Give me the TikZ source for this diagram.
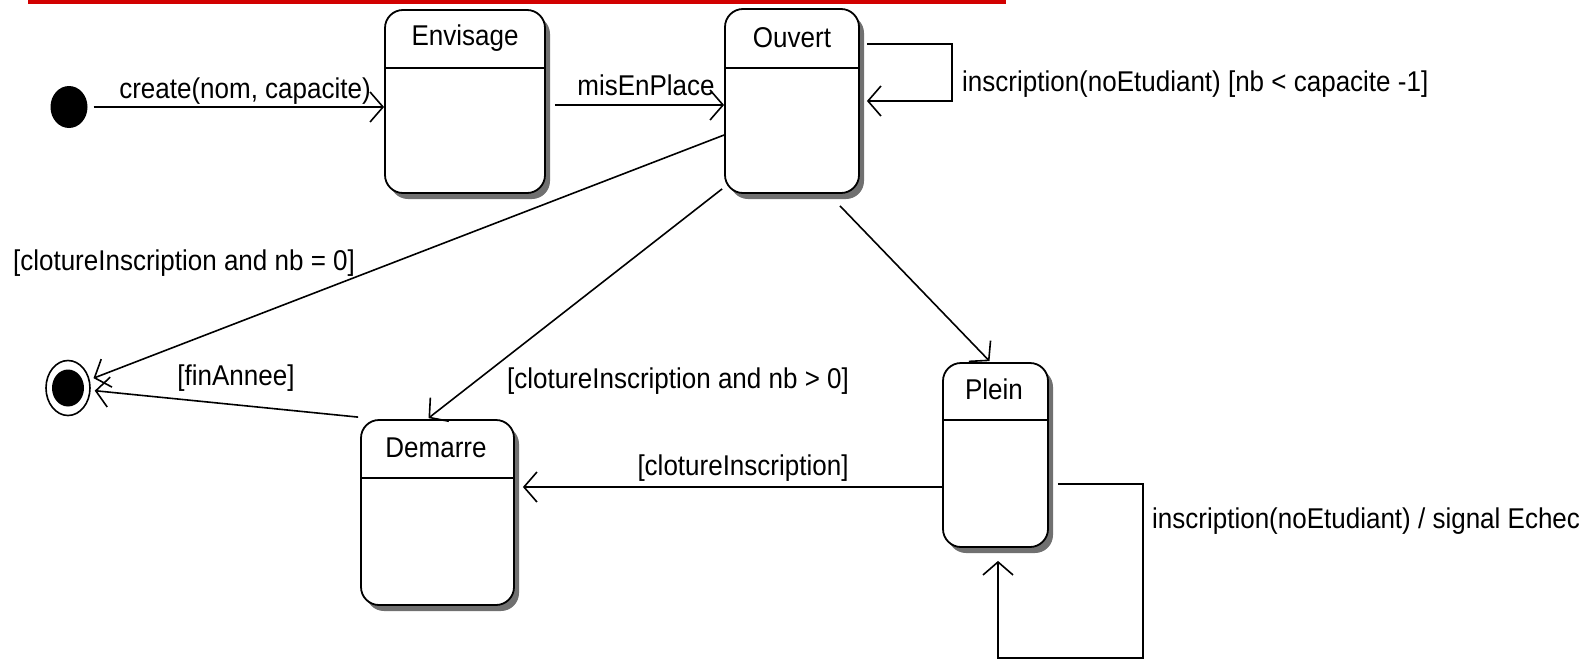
\documentclass[tikz,border=0pt]{standalone}
\usepackage{fontspec}
\setmainfont{Liberation Sans}
\usepackage{graphicx}
\usetikzlibrary{arrows.meta,shapes.geometric,shadows,calc}
\definecolor{barred}{RGB}{210,0,0}
\newcommand\tstretch[1]{\scalebox{1}[1.1]{#1}}
\begin{document}
\begin{tikzpicture}[x=1pt,y=-1pt,
  lbl/.style={font=\fontsize{26}{30}\selectfont, inner sep=0pt, text=black},
  statebox/.style={draw, line width=1.8pt, rounded corners=18pt, fill=white,
    drop shadow={shadow xshift=5pt, shadow yshift=-6pt, fill=black!75, opacity=0.75}, inner sep=0pt},
  conn/.style={line width=1.6pt, -{Straight Barb[length=13pt,width=30pt,line width=1.6pt]}},
  divider/.style={line width=1.8pt},
]
\useasboundingbox (0,0) rectangle (1592,659);
\fill[barred] (28,0) rectangle (1006,3.5);

% states
\node[statebox, minimum width=160pt, minimum height=183pt] (env) at (465,101.5) {};
\node[statebox, minimum width=134pt, minimum height=184pt] (ouv) at (792,101) {};
\node[statebox, minimum width=153pt, minimum height=185pt] (dem) at (437.5,512.5) {};
\node[statebox, minimum width=105pt, minimum height=184pt] (plein) at (995.5,455) {};
\draw[divider] (env.west |- 0,68) -- (env.east |- 0,68);
\draw[divider] (ouv.west |- 0,68) -- (ouv.east |- 0,68);
\draw[divider] (dem.west |- 0,478) -- (dem.east |- 0,478);
\draw[divider] (plein.west |- 0,420) -- (plein.east |- 0,420);
\node[lbl] (envT) at (465,38) {\tstretch{Envisage}};
\node[lbl] (ouvT) at (792,38) {\tstretch{Ouvert}};
\node[lbl] (demT) at (436,448) {\tstretch{Demarre}};
\node[lbl] (pleinT) at (994,389) {\tstretch{Plein}};

% pseudo states
\node[ellipse, fill=black, inner sep=0pt, minimum width=37pt, minimum height=42pt] (init) at (69,107) {};
\node[ellipse, draw, line width=1.6pt, fill=white, inner sep=0pt, minimum width=44pt, minimum height=55pt] (fin) at (68,388) {};
\node[ellipse, fill=black, inner sep=0pt, minimum width=32pt, minimum height=37pt] (finIn) at (68,388) {};

% loop corners
\coordinate (oA) at (952,44);
\coordinate (oB) at (952,101);
\coordinate (pA) at (1143,484);
\coordinate (pB) at (1143,658);
\coordinate (pC) at (998,658);

% connectors
\draw[conn, shorten <=6pt] (init.east) -- (init.east -| env.west);
\draw[conn, shorten <=9pt] (env.east |- 0,105) -- (ouv.west |- 0,105);
\draw[conn] ($(ouv.east |- 0,44)+(7,0)$) -- (oA) -- (oB) -- ($(ouv.east |- 0,101)+(7,0)$);
\draw[conn, shorten >=4pt] (ouv.west |- 0,135) -- (fin);
\draw[conn] ($(ouv.south west)+(-2,-5)$) -- ($(dem.north)+(-9,-1)$);
\draw[conn] ($(ouv.south)+(48,12)$) -- ($(plein.north)+(-6,-1)$);
\draw[conn, shorten >=8pt] (plein.west |- 0,487) -- (dem.east |- 0,487);
\draw[conn, shorten >=4pt] ($(dem.north west)+(-2,-2)$) -- (fin);
\draw[conn] ($(plein.east |- 0,484)+(9,0)$) -- (pA) -- (pB) -- (pC) -- ($(plein.south)+(2.5,13)$);

% labels
\node[lbl, anchor=base] (lCreate) at (245,98) {\tstretch{create(nom, capacite)}};
\node[lbl, anchor=base] (lMis) at (646,95) {\tstretch{misEnPlace}};
\node[lbl, anchor=base west] (lInsc1) at (962,91) {\tstretch{inscription(noEtudiant) [nb < capacite -1]}};
\node[lbl, anchor=base] (lNb0) at (184,270) {\tstretch{[clotureInscription and nb = 0]}};
\node[lbl, anchor=base] (lNbP) at (678,388) {\tstretch{[clotureInscription and nb > 0]}};
\node[lbl, anchor=base] (lFin) at (236,385) {\tstretch{[finAnnee]}};
\node[lbl, anchor=base] (lClot) at (743,475) {\tstretch{[clotureInscription]}};
\node[lbl, anchor=base west] (lInsc2) at (1152,528) {\tstretch{inscription(noEtudiant) / signal Echec}};
\end{tikzpicture}
\end{document}
